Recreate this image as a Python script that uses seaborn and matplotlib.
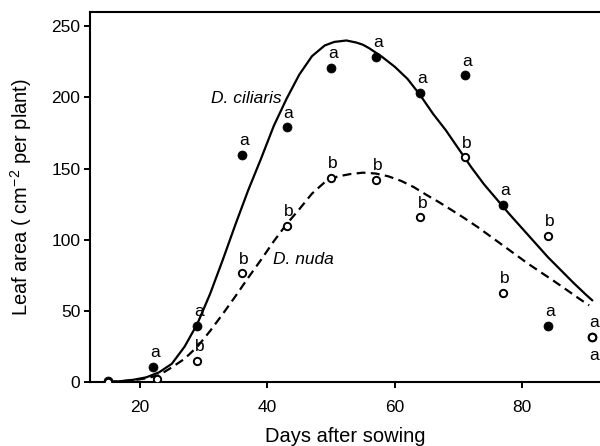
import pandas as pd
import matplotlib.pyplot as plt
import seaborn as sns

# Observed leaf area (cm2 per plant) by days after sowing
days_ciliaris = [15, 22, 29, 36, 43, 50, 57, 64, 71, 77, 84, 91]
leaf_ciliaris = [1, 11, 39.5, 159.5, 179, 221, 228.7, 203, 215.6, 124.5, 39.5, 32]
letters_ciliaris = [None, 'a', 'a', 'a', 'a', 'a', 'a', 'a', 'a', 'a', 'a', 'a']

days_nuda = [15, 22.6, 29, 36, 43, 50, 57, 64, 71, 77, 84, 91]
leaf_nuda = [0.5, 2, 15.2, 76.5, 110, 143.7, 142, 115.9, 158, 62.9, 102.7, 32]
letters_nuda = [None, None, 'b', 'b', 'b', 'b', 'b', 'b', 'b', 'b', 'b', 'a']

# Fitted curves
fit_days_ciliaris = [15, 17, 19, 21, 23, 25, 27, 29, 31, 33, 35, 37, 39, 41, 43, 45,
                     47, 49, 50.5, 52.4, 54, 55, 56, 58, 60, 62, 64, 66, 68, 70, 72, 74,
                     76, 78, 80, 82, 84, 86, 88, 90, 91]
fit_ciliaris = [0.3, 0.8, 1.8, 3.5, 7, 13, 25, 41, 62, 86, 111, 135, 157, 180, 199, 216,
                229, 236.5, 239, 240, 238.5, 237, 234.5, 228.5, 221.5, 213, 201.5, 188.5, 177, 164, 151, 139,
                128.5, 118, 108, 98, 88, 79, 70, 61.5, 57.5]

fit_days_nuda = [15, 17, 19, 21, 23, 25, 27, 29, 31, 33, 35, 37, 39, 41, 43, 45, 47,
                 49, 51, 53, 55, 57, 59, 61, 63, 65, 67, 69, 71, 73, 75, 77, 79,
                 81, 83, 85, 87, 89, 90.5]
fit_nuda = [0.3, 0.7, 1.5, 2.8, 5, 10.5, 16.5, 25, 36, 48, 60.5, 73.5, 86, 99, 111, 121.5, 132.5,
            140.5, 144.5, 146.2, 147.2, 146.6, 144.6, 141.4, 137, 131.5, 126.3, 120.7, 115, 109, 102.5, 96, 89.5,
            83, 77, 71, 64.8, 58.5, 54]

sns.set_theme(style='ticks')
plt.rcParams['font.family'] = ['Liberation Sans', 'DejaVu Sans']
plt.rcParams['mathtext.fontset'] = 'custom'
plt.rcParams['mathtext.rm'] = 'Liberation Sans'
plt.rcParams['mathtext.default'] = 'regular'
plt.rcParams['text.color'] = 'black'
plt.rcParams['axes.labelcolor'] = 'black'

fig = plt.figure(figsize=(6, 4.46), dpi=100)
ax = fig.add_axes([0.15, 0.1428, 0.85, 0.8303])

sns.lineplot(x=fit_days_ciliaris, y=fit_ciliaris, color='black', lw=1.6,
             sort=False, estimator=None, ax=ax, zorder=2)
sns.lineplot(x=fit_days_nuda, y=fit_nuda, color='black', lw=1.6,
             linestyle=(0, (4, 2.4)), sort=False, estimator=None, ax=ax, zorder=2)

sns.scatterplot(x=days_ciliaris, y=leaf_ciliaris, color='black', edgecolor='black',
                s=42, ax=ax, zorder=3)
sns.scatterplot(x=days_nuda, y=leaf_nuda, color='white', edgecolor='black',
                linewidth=1.4, s=28, ax=ax, zorder=4)

# significance letters
for i, (d, v, lab) in enumerate(zip(days_ciliaris, leaf_ciliaris, letters_ciliaris)):
    if lab is None:
        continue
    dy = -17 if i == len(days_ciliaris) - 1 else 7
    ax.annotate(lab, (d, v), xytext=(1.5, dy), textcoords='offset points',
                ha='center', va='baseline', fontsize=12.5)
for d, v, lab in zip(days_nuda, leaf_nuda, letters_nuda):
    if lab is None:
        continue
    ax.annotate(lab, (d, v), xytext=(1.5, 7), textcoords='offset points',
                ha='center', va='baseline', fontsize=12.5)

ax.text(31.2, 199.4, 'D. ciliaris', style='italic', fontsize=12.5, ha='left', va='center')
ax.text(40.9, 85.9, 'D. nuda', style='italic', fontsize=12.5, ha='left', va='center')

ax.set_xlim(12.16, 92.2)
ax.set_ylim(0, 260)
ax.set_xticks([20, 40, 60, 80])
ax.set_yticks([0, 50, 100, 150, 200, 250])
ax.set_xlabel('Days after sowing', fontsize=14.5, labelpad=9)
ax.set_ylabel('Leaf area ( cm$^{-2}$ per plant)', fontsize=14.5, labelpad=12)

ax.spines['right'].set_visible(False)
for s in ['left', 'top', 'bottom']:
    ax.spines[s].set_linewidth(1.5)
    ax.spines[s].set_color('black')
ax.tick_params(axis='both', length=4.5, width=1.4, color='black', labelsize=12.5,
               labelcolor='black')
ax.tick_params(axis='x', pad=8)
ax.tick_params(axis='y', pad=2.5)

fig.savefig('out.png', dpi=100)
plt.close(fig)
